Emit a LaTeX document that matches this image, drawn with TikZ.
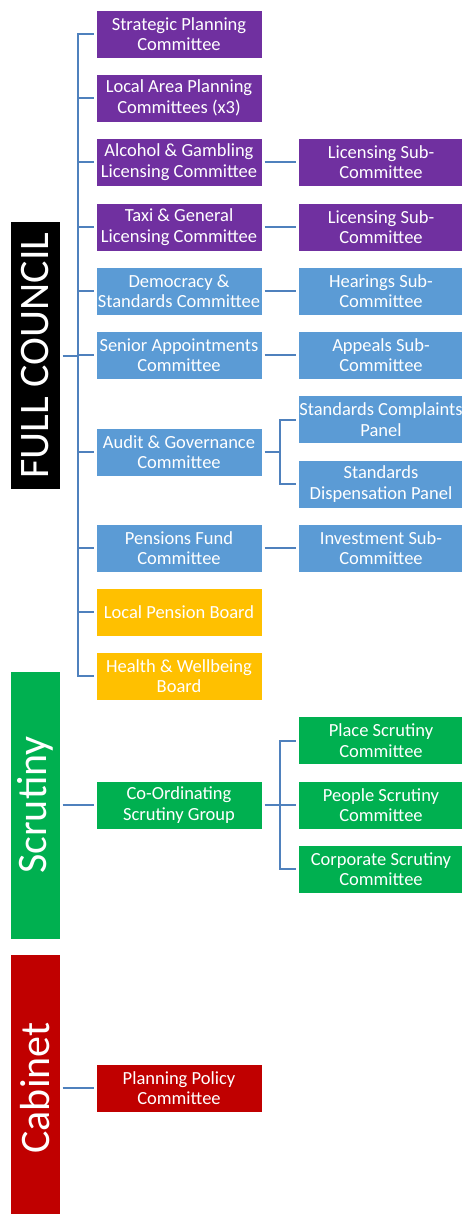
\documentclass[tikz,border=0pt]{standalone}
\usepackage{fontspec}
\setmainfont{Carlito}
\usetikzlibrary{positioning}
\definecolor{purplebox}{RGB}{112,48,160}
\definecolor{bluebox}{RGB}{91,155,213}
\definecolor{goldbox}{RGB}{255,192,0}
\definecolor{greenbox}{RGB}{0,176,80}
\definecolor{redbox}{RGB}{192,0,0}
\definecolor{linkblue}{RGB}{79,129,189}

\begin{document}
\begin{tikzpicture}[x=1pt, y=-1pt,
    every node/.style={text=white, align=center, inner sep=0pt, outer sep=2.5pt},
    committee/.style={minimum width=166pt, minimum height=48pt,
      draw=white, line width=0.6pt, font=\fontsize{18.5}{20.5}\selectfont},
    body/.style={minimum width=267pt, minimum height=49pt, rotate=90,
      font=\fontsize{42}{44}\selectfont},
    link/.style={draw=linkblue, line width=2pt, line join=miter}]
    \useasboundingbox (0,0) rectangle (461,1214);

    % the three bodies
    \node[body, fill=black] (fc) at (35.5,355.5) {FULL COUNCIL};
    \node[body, fill=greenbox] (sc) at (35.5,805) {Scrutiny};
    \node[body, fill=redbox] (cab) at (35.5,1088) {Cabinet};

    % full council committees
    \begin{scope}[every node/.append style={committee}]
    \node[fill=purplebox] (strat) at (179,34) {Strategic Planning\\Committee};
    \node[fill=purplebox] (local) at (179,98) {Local Area Planning\\Committees (x3)};
    \node[fill=purplebox] (alcohol) at (179,162) {Alcohol \& Gambling\\Licensing Committee};
    \node[fill=purplebox] (taxi) at (179,227) {Taxi \& General\\Licensing Committee};
    \node[fill=bluebox] (democ) at (179,291) {Democracy \&\\Standards Committee};
    \node[fill=bluebox] (senior) at (179,355) {Senior Appointments\\Committee};
    \node[fill=bluebox] (audit) at (179,452) {Audit \& Governance\\Committee};
    \node[fill=bluebox] (pension) at (179,548) {Pensions Fund\\Committee};
    \node[fill=goldbox] (lpb) at (179,612) {Local Pension Board};
    \node[fill=goldbox] (health) at (179,676) {Health \& Wellbeing\\Board};

    \node[fill=purplebox] (lic1) at (381,162) {Licensing Sub-\\Committee};
    \node[fill=purplebox] (lic2) at (381,227) {Licensing Sub-\\Committee};
    \node[fill=bluebox] (hear) at (381,291) {Hearings Sub-\\Committee};
    \node[fill=bluebox] (appeal) at (381,355) {Appeals Sub-\\Committee};
    \node[fill=bluebox] (stdcomp) at (381,419.5) {Standards Complaints\\Panel};
    \node[fill=bluebox] (stddisp) at (381,484) {Standards\\Dispensation Panel};
    \node[fill=bluebox] (invest) at (381,548) {Investment Sub-\\Committee};

    % scrutiny and cabinet
    \node[fill=greenbox] (coord) at (179,805) {Co-Ordinating\\Scrutiny Group};
    \node[fill=greenbox] (place) at (381,740.5) {Place Scrutiny\\Committee};
    \node[fill=greenbox] (people) at (381,805) {People Scrutiny\\Committee};
    \node[fill=greenbox] (corp) at (381,869) {Corporate Scrutiny\\Committee};
    \node[fill=redbox] (plan) at (179,1088) {Planning Policy\\Committee};
    \end{scope}

    \coordinate (fcbus) at (78,0);
    \coordinate (subbus) at (280,0);

    \draw[link] (fc.south) -- (fc.south -| fcbus);
    \draw[link] (strat.west) -- (fcbus |- strat) -- (fcbus |- health) -- (health.west);
    \foreach \n in {local,alcohol,taxi,democ,senior,audit,pension,lpb}
      \draw[link] (fcbus |- \n) -- (\n.west);

    \draw[link] (alcohol) -- (lic1);
    \draw[link] (taxi) -- (lic2);
    \draw[link] (democ) -- (hear);
    \draw[link] (senior) -- (appeal);
    \draw[link] (pension) -- (invest);
    \draw[link] (audit.east) -- (audit.east -| subbus);
    \draw[link] (stdcomp.west) -- (subbus |- stdcomp) -- (subbus |- stddisp) -- (stddisp.west);

    \draw[link] (sc) -- (coord);
    \draw[link] (coord.east) -- (coord.east -| subbus);
    \draw[link] (place.west) -- (subbus |- place) -- (subbus |- corp) -- (corp.west);
    \draw[link] (subbus |- people) -- (people.west);

    \draw[link] (cab) -- (plan);
\end{tikzpicture}
\end{document}
